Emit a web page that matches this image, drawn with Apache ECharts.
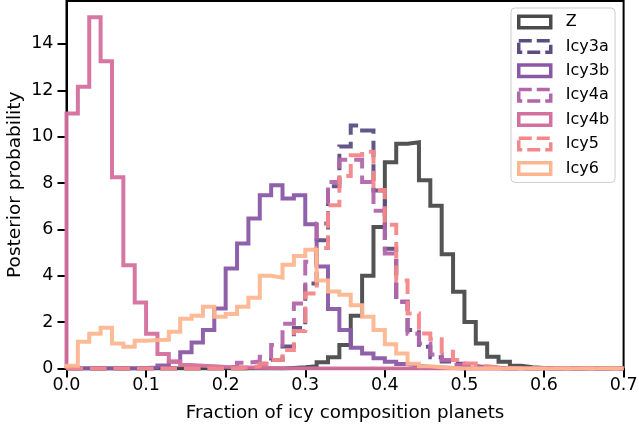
<!DOCTYPE html>
<html>
<head>
<meta charset="utf-8">
<script src="https://cdn.jsdelivr.net/npm/echarts@6/dist/echarts.min.js"></script>
<style>
  html, body { margin: 0; padding: 0; background: #fff; }
  #chart { width: 639px; height: 432px; }
</style>
</head>
<body>
<div id="chart"></div>
<script>
// Histogram bins: 49 equal bins spanning [binMin, binMax]
const binMin = 0.0;
const binMax = 0.7;
const binCount = 49;

const seriesNames = ['Z', 'Icy3a', 'Icy3b', 'Icy4a', 'Icy4b', 'Icy5', 'Icy6'];

const Z = [0,0,0,0,0,0,0,0,0,0,0,0,0,0,0,0,0,0,0,
  0.02,0.05,0.1,0.27,0.48,1.01,2.27,4.0,6.1,8.9,9.69,9.76,8.12,7.02,4.93,3.31,2.01,1.08,0.51,0.29,0.12,0.05,0.02,
  0,0,0,0,0,0,0];
const Icy3a = [0,0,0,0,0,0,0,0,0,0,0,0,0,0,0,0,
  0.05,0.2,0.37,0.95,1.75,3.67,5.53,7.86,9.58,10.48,10.27,7.68,5.17,2.88,1.66,0.94,0.48,0.3,0.2,0.1,0.05,0.02,
  0,0,0,0,0,0,0,0,0,0,0];
const Icy3b = [0,0,0,0,0,0,0.02,0.04,
  0.13,0.29,0.7,1.12,1.66,2.59,4.31,5.39,6.47,7.47,7.9,7.33,7.47,6.22,4.4,2.57,1.66,0.9,0.65,0.44,0.29,0.19,0.12,0.07,0.04,0.02,
  0,0,0,0,0,0,0,0,0,0,0,0,0,0,0];
const Icy4a = [0,0,0,0,0,0,0,0,0,0,0,0,0,
  0.03,0.08,0.25,0.3,0.51,1.01,1.93,2.8,4.6,6.25,8.04,9.0,9.0,8.04,6.8,4.96,2.88,1.5,1.08,0.6,0.37,0.15,0.08,0.03,
  0,0,0,0,0,0,0,0,0,0,0,0];
const Icy4b = [11.0,12.15,15.15,13.25,8.25,4.45,2.85,1.5,0.62,0.3,0.15,0.12,0.1,0.07,0.05,0.04,0.03,0.02,0.01,
  0,0,0,0,0,0,0,0,0,0,0,0,0,0,0,0,0,0,0,0,0,0,0,0,0,0,0,0,0,0];
const Icy5 = [0,0,0,0,0,0,0,0,0,0,0,0,0,0,0,
  0.05,0.1,0.2,0.37,0.8,1.62,3.24,5.2,7.04,8.3,9.2,9.35,7.7,6.2,3.8,2.37,1.51,1.26,0.72,0.37,0.22,0.1,0.05,0.02,
  0,0,0,0,0,0,0,0,0,0];
const Icy6 = [0.12,1.15,1.5,1.76,1.08,0.94,1.2,1.23,1.24,1.58,2.15,2.27,2.66,2.23,2.35,2.66,3.05,4.0,3.92,4.48,4.85,5.12,
  3.8,3.32,3.18,2.73,2.23,1.66,1.05,0.65,0.2,0.1,0.05,0.02,
  0,0,0,0,0,0,0,0,0,0,0,0,0,0,0];

const xTickValues = [0, 0.1, 0.2, 0.3, 0.4, 0.5, 0.6, 0.7];
const yTickValues = [0, 2, 4, 6, 8, 10, 12, 14];

const seriesValues = [Z, Icy3a, Icy3b, Icy4a, Icy4b, Icy5, Icy6];
const seriesColors = ['#4a4a4a', '#5b4d82', '#8a58a6', '#b366aa', '#d4709e', '#f4878a', '#fdb690'];
const seriesDashed = [false, true, false, true, false, true, false];

function stepPath(vals) {
  const w = (binMax - binMin) / binCount;
  const pts = [[binMin, 0]];
  for (let i = 0; i < vals.length; i++) {
    const x0 = binMin + i * w, x1 = binMin + (i + 1) * w;
    pts.push([x0, vals[i]]);
    pts.push([x1, vals[i]]);
  }
  pts.push([binMax, 0]);
  return pts;
}

const dashPattern = [16.5, 7];
const font = 'DejaVu Sans';

const series = seriesNames.map((name, i) => ({
  name: name,
  type: 'line',
  data: stepPath(seriesValues[i]),
  showSymbol: false,
  symbol: 'none',
  z: 2 + i,
  lineStyle: {
    color: seriesColors[i],
    width: 4,
    type: seriesDashed[i] ? dashPattern : 'solid',
    join: 'miter',
    cap: 'butt',
    opacity: 0.95
  },
  itemStyle: { color: seriesColors[i] },
  emphasis: { disabled: true }
}));

const chart = echarts.init(document.getElementById('chart'), null, { renderer: 'canvas' });
chart.setOption({
  animation: false,
  backgroundColor: '#fff',
  grid: {
    left: 66.5, right: 15.4, top: 1, bottom: 63.5,
    containLabel: false,
    outerBoundsMode: 'none',
    show: true, borderColor: '#000', borderWidth: 2, backgroundColor: 'transparent'
  },
  legend: {
    orient: 'vertical',
    left: 511, top: 8,
    padding: [6, 6, 6, 6],
    itemWidth: 32, itemHeight: 11.5,
    itemGap: 8.4,
    borderColor: '#cccccc', borderWidth: 1, borderRadius: 4,
    backgroundColor: 'rgba(255,255,255,0.8)',
    textStyle: { fontFamily: font, fontSize: 16, color: '#000', lineHeight: 16, padding: [0, 0, 0, 10] },
    data: seriesNames.map((name, i) => ({
      name: name,
      icon: 'rect',
      itemStyle: {
        color: 'rgba(255,255,255,0)',
        borderColor: seriesColors[i],
        borderWidth: 3.5,
        borderType: seriesDashed[i] ? [13, 5] : 'solid'
      }
    }))
  },
  xAxis: {
    type: 'value',
    min: binMin, max: binMax,
    name: 'Fraction of icy composition planets',
    nameLocation: 'middle',
    nameGap: 36,
    nameTextStyle: { fontFamily: font, fontSize: 18.3, color: '#000' },
    axisLine: { show: true, onZero: false, lineStyle: { color: '#000', width: 2 } },
    axisTick: { show: true, length: 9, lineStyle: { color: '#000', width: 2 }, customValues: xTickValues },
    axisLabel: { fontFamily: font, fontSize: 17.5, color: '#000', margin: 8,
      customValues: xTickValues, formatter: v => v.toFixed(1) },
    splitLine: { show: false }
  },
  yAxis: {
    type: 'value',
    min: 0, max: 15.85,
    name: 'Posterior probability',
    nameLocation: 'middle',
    nameGap: 42,
    nameMoveOverlap: false,
    nameTextStyle: { fontFamily: font, fontSize: 18.5, color: '#000' },
    axisLine: { show: true, onZero: false, lineStyle: { color: '#000', width: 2 } },
    axisTick: { show: true, length: 9, lineStyle: { color: '#000', width: 2 }, customValues: yTickValues },
    axisLabel: { fontFamily: font, fontSize: 17.5, color: '#000', margin: 13,
      customValues: yTickValues, formatter: v => String(v) },
    splitLine: { show: false }
  },
  series: series
});
</script>
</body>
</html>
